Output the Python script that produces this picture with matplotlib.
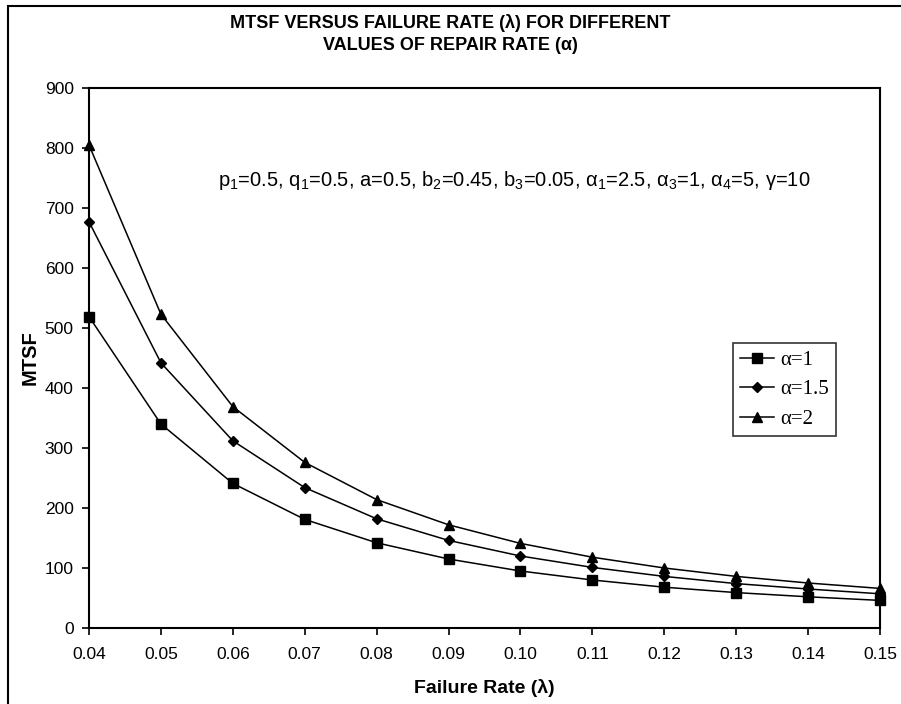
import matplotlib
matplotlib.use('Agg')
import matplotlib.pyplot as plt
from matplotlib.patches import Rectangle

# failure rate values and MTSF
rate = [0.04, 0.05, 0.06, 0.07, 0.08, 0.09, 0.10, 0.11, 0.12, 0.13, 0.14, 0.15]
mtsf_a1 = [519, 340, 241, 181, 142, 115, 95, 80, 68, 59, 52, 46]
mtsf_a15 = [677, 442, 312, 234, 182, 146, 120, 101, 86, 74, 65, 57]
mtsf_a2 = [805, 523, 369, 276, 214, 172, 141, 118, 100, 86, 75, 66]
labels = ['α=1', 'α=1.5', 'α=2']
xticks = [0.04, 0.05, 0.06, 0.07, 0.08, 0.09, 0.10, 0.11, 0.12, 0.13, 0.14, 0.15]
yticks = [0, 100, 200, 300, 400, 500, 600, 700, 800, 900]

plt.rcParams['font.family'] = ['Liberation Sans', 'DejaVu Sans']
plt.rcParams['mathtext.default'] = 'regular'

fig = plt.figure(figsize=(9.01, 7.04), dpi=100)
ax = fig.add_axes([89/901, 1-628/704, (880-89)/901, (628-88)/704])

# outer frame of the chart
fig.patches.append(Rectangle((8/901, -0.1), 1.2, 1.1-6/704, transform=fig.transFigure,
                             fill=False, edgecolor='black', linewidth=1.5))

ax.plot(rate, mtsf_a1, color='black', lw=1.1, marker='s', ms=6.5, label=labels[0], clip_on=False)
ax.plot(rate, mtsf_a15, color='black', lw=1.1, marker='D', ms=5, label=labels[1], clip_on=False)
ax.plot(rate, mtsf_a2, color='black', lw=1.1, marker='^', ms=7, label=labels[2], clip_on=False)

ax.set_xlim(0.04, 0.15)
ax.set_ylim(0, 900)
ax.set_xticks(xticks)
ax.set_xticklabels([f'{v:.2f}' for v in xticks])
ax.set_yticks(yticks)
ax.tick_params(direction='out', length=5, width=1.2, labelsize=12.5)
ax.tick_params(axis='x', pad=9)
ax.tick_params(axis='y', pad=6)
for s in ax.spines.values():
    s.set_linewidth(1.5)

ax.set_xlabel('Failure Rate (λ)', fontsize=14, fontweight='bold', labelpad=12)
ax.set_ylabel('MTSF', fontsize=14.5, fontweight='bold', labelpad=4)

fig.text(0.5, 1-23/704, 'MTSF VERSUS FAILURE RATE (λ) FOR DIFFERENT', ha='center', va='center',
         fontsize=13, fontweight='bold')
fig.text(0.5, 1-46/704, 'VALUES OF REPAIR RATE (α)', ha='center', va='center',
         fontsize=13, fontweight='bold')

ax.text(0.0579, 745, 'p$_1$=0.5, q$_1$=0.5, a=0.5, b$_2$=0.45, b$_3$=0.05, α$_1$=2.5, α$_3$=1, α$_4$=5, γ=10',
        fontsize=14.5, va='center', ha='left')

leg = ax.legend(loc='upper left', bbox_to_anchor=((733-89)/791, (628-343)/540),
                prop={'family': 'Liberation Serif', 'size': 15}, frameon=True, fancybox=False,
                edgecolor='black', handlelength=1.6, handletextpad=0.3, borderpad=0.35,
                labelspacing=0.48, borderaxespad=0)
leg.get_frame().set_linewidth(1.2)

fig.savefig('out.png', dpi=100)
